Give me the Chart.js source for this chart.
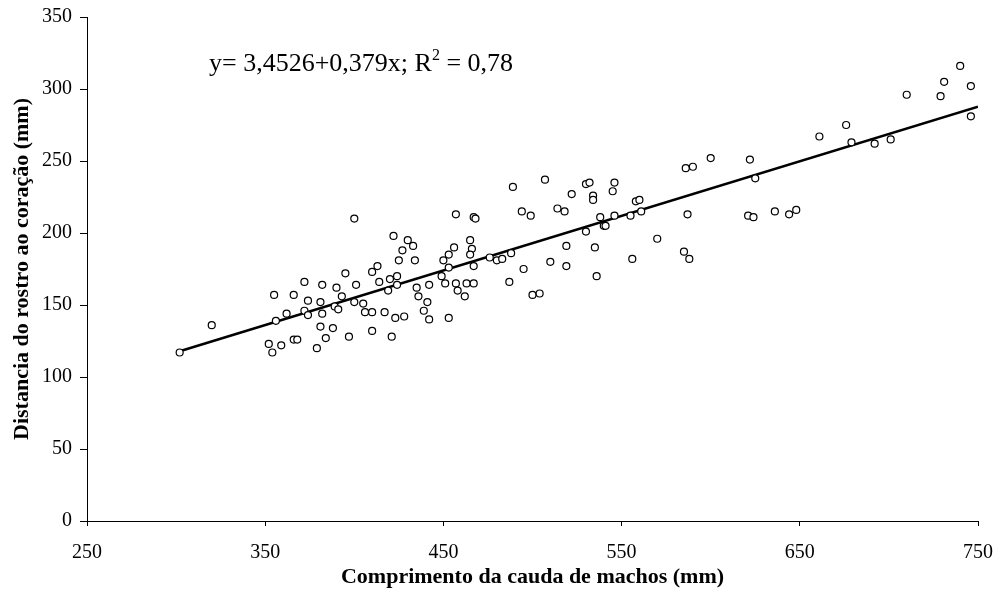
<!DOCTYPE html>
<html>
<head>
<meta charset="utf-8">
<script src="https://cdn.jsdelivr.net/npm/chart.js@4.4.1/dist/chart.umd.min.js"></script>
<style>
  html, body { margin: 0; padding: 0; background: #fff; }
  #wrap { width: 997px; height: 605px; }
</style>
</head>
<body>
<div id="wrap"><canvas id="scatter" width="997" height="605"></canvas></div>
<script>
// Tail length of males (x) and rostrum-to-heart distance (y), in mm
const tailLength = [
  302, 320, 355, 372, 382, 390, 366, 374, 381, 362, 372, 374, 382, 356, 389, 391, 381, 388, 384, 366, 368, 352, 359, 354, 379,
  400, 457, 467, 468, 422, 430, 433, 427, 425, 434, 465, 466, 465, 456, 453, 450, 453, 467, 476, 480,
  413, 410, 395, 420, 424, 414, 401, 424, 419, 435, 436, 442, 449, 451, 457, 458, 462, 463, 467,
  393, 400, 405, 406, 410, 417, 441, 439, 442, 423, 428, 453, 410, 397, 421,
  489, 507, 530, 532, 546, 545, 522, 534, 534, 494, 499, 514, 518, 558, 560, 561, 555, 546, 538, 540, 541, 530,
  570, 519, 535, 488, 483, 510, 495, 519, 556, 487, 536, 500, 504,
  740, 731, 746, 729, 710, 746, 676, 661, 679, 692, 701, 600, 586, 590, 622, 625, 587, 621, 624, 636, 644, 648, 585, 588
];
const rostrumHeart = [
  117, 136, 157, 166, 164, 162, 157, 153, 152, 144, 146, 143, 144, 139, 149, 147, 135, 134, 127, 126, 126, 123, 122, 117, 120,
  210, 213, 211, 210, 198, 195, 191, 188, 181, 181, 195, 189, 185, 190, 185, 181, 176, 177, 183, 181,
  177, 173, 172, 168, 170, 166, 164, 164, 160, 162, 156, 164, 170, 165, 165, 160, 156, 165, 165,
  156, 152, 151, 145, 145, 145, 152, 146, 140, 141, 142, 141, 132, 128, 128,
  232, 237, 234, 235, 235, 229, 227, 226, 223, 215, 212, 217, 215, 222, 223, 215, 212, 212, 211, 205, 205, 201,
  196, 191, 190, 186, 182, 180, 175, 177, 182, 166, 170, 157, 158,
  316, 305, 302, 295, 296, 281, 275, 267, 263, 262, 265, 252, 245, 246, 251, 238, 213, 212, 211, 215, 213, 216, 187, 182
];

// fitted regression: y = a + b x
const intercept = 3.4526;
const slope = 0.379;
const rSquared = "0,78";

const xTicks = [250, 350, 450, 550, 650, 750];
const yTicks = [0, 50, 100, 150, 200, 250, 300, 350];

const points = tailLength.map((x, i) => ({ x: x, y: rostrumHeart[i] }));
const xStart = Math.min(...tailLength);
const xEnd = 750;
const fitLine = [
  { x: xStart, y: intercept + slope * xStart },
  { x: xEnd, y: intercept + slope * xEnd }
];

const serif = "'Liberation Serif', 'Times New Roman', serif";

// equation written in the upper left of the plot
const equationLabel = {
  id: "equationLabel",
  afterDraw(chart) {
    const c = chart.ctx;
    c.save();
    c.fillStyle = "#000";
    c.textBaseline = "alphabetic";
    c.font = "26px " + serif;
    let x = 209, y = 71;
    const head = "y= 3,4526+0,379x; R";
    c.fillText(head, x, y);
    x += c.measureText(head).width;
    c.font = "16px " + serif;
    c.fillText("2", x, y - 11);
    x += c.measureText("2").width;
    c.font = "26px " + serif;
    c.fillText(" = " + rSquared, x, y);
    c.restore();
  }
};

Chart.defaults.font.family = serif;
Chart.defaults.color = "#000";

new Chart(document.getElementById("scatter"), {
  type: "scatter",
  data: {
    datasets: [
      {
        label: "observado",
        data: points,
        pointRadius: 3.5,
        pointHoverRadius: 3.5,
        borderWidth: 1.2,
        borderColor: "#000",
        backgroundColor: "#fff"
      },
      {
        type: "line",
        label: "ajuste",
        data: fitLine,
        borderColor: "#000",
        borderWidth: 2.5,
        pointRadius: 0,
        fill: false
      }
    ]
  },
  options: {
    responsive: false,
    animation: false,
    layout: { padding: { top: 17, right: 19, left: 0, bottom: 0 } },
    plugins: {
      legend: { display: false },
      tooltip: { enabled: false }
    },
    scales: {
      x: {
        type: "linear",
        min: 250,
        max: 750,
        afterBuildTicks: s => { s.ticks = xTicks.map(v => ({ value: v })); },
        afterFit: s => { s.height = 84; s.paddingLeft = 0; s.paddingRight = 0; },
        grid: { drawOnChartArea: false, drawTicks: true, tickLength: 5, tickColor: "#000" },
        border: { color: "#000", width: 1 },
        ticks: { font: { size: 20 }, padding: 15, maxRotation: 0 },
        title: {
          display: true,
          text: "Comprimento da cauda de machos (mm)",
          font: { size: 22, weight: "bold" },
          padding: { top: 0, bottom: 14 }
        }
      },
      y: {
        min: 0,
        max: 350,
        afterBuildTicks: s => { s.ticks = yTicks.map(v => ({ value: v })); },
        afterFit: s => { s.width = 87; s.paddingTop = 0; s.paddingBottom = 0; },
        grid: { drawOnChartArea: false, drawTicks: true, tickLength: 7, tickColor: "#000" },
        border: { color: "#000", width: 1 },
        ticks: { font: { size: 20 }, padding: 8 },
        title: {
          display: true,
          text: "Distancia do rostro ao coração (mm)",
          font: { size: 22, weight: "bold" },
          padding: { top: 9, bottom: 0 }
        }
      }
    }
  },
  plugins: [equationLabel]
});
</script>
</body>
</html>
